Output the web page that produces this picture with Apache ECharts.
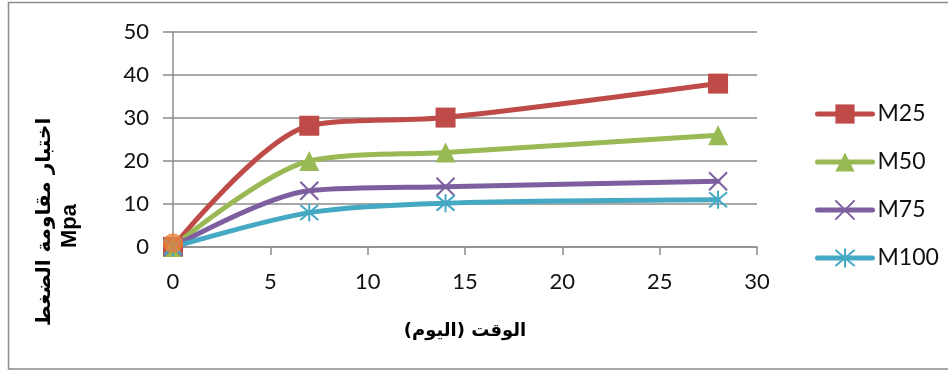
<!DOCTYPE html>
<html>
<head>
<meta charset="utf-8">
<script src="https://cdn.jsdelivr.net/npm/echarts@6/dist/echarts.min.js"></script>
<style>
  html, body { margin: 0; padding: 0; background: #fff; }
  #chart { width: 948px; height: 374px; }
</style>
</head>
<body>
<div id="chart"></div>
<script>
// Compressive strength (MPa) versus age (days) for four mixes
const days = [0, 7, 14, 28];
const m25 = [0, 28.2, 30.1, 38.0];
const m50 = [0, 20.0, 22.0, 26.0];
const m75 = [0, 13.1, 14.0, 15.3];
const m100 = [0, 8.0, 10.2, 11.0];
const originPoint = [[0, 0.9]];

const xTicks = { min: 0, max: 30, step: 5 };
const yTicks = { min: 0, max: 50, step: 10 };

const seriesNames = ['M25', 'M50', 'M75', 'M100'];
const colors = ['#BE4B48', '#98B954', '#7D5FA0', '#46A9C4'];

const crossPath = 'path://M0,0 L20,20 M20,0 L0,20';
const starPath = 'path://M0,0 L20,20 M20,0 L0,20 M10,-2 L10,22';

function pairs(vals) {
  return days.map((d, i) => [d, vals[i]]);
}

const gridColor = '#8C8C8C';
const tickFont = { fontFamily: 'Lato, "Open Sans", sans-serif', fontSize: 22, color: '#111' };

function lineSeries(name, vals, color, symbol, size, hollow) {
  return {
    name: name,
    type: 'line',
    data: pairs(vals),
    smooth: 0.3,
    symbol: symbol,
    symbolSize: size,
    showAllSymbol: true,
    lineStyle: { width: 5, color: color, cap: 'round' },
    itemStyle: hollow
      ? { color: color, borderColor: color, borderWidth: 2 }
      : { color: color },
    emphasis: { disabled: true },
    z: 2
  };
}

const chart = echarts.init(document.getElementById('chart'), null, { renderer: 'canvas' });

chart.setOption({
  animation: false,
  backgroundColor: '#fff',
  grid: { left: 173, right: 191, top: 32, bottom: 127, containLabel: false },
  xAxis: {
    type: 'value',
    min: xTicks.min, max: xTicks.max, interval: xTicks.step,
    axisLine: { show: true, lineStyle: { color: gridColor, width: 1.5 } },
    axisTick: { show: true, length: 8, lineStyle: { color: gridColor, width: 1.5 } },
    splitLine: { show: false },
    axisLabel: Object.assign({ margin: 24 }, tickFont),
    name: 'الوقت (اليوم)',
    nameLocation: 'middle',
    nameGap: 75,
    nameTextStyle: { fontFamily: '"DejaVu Sans", sans-serif', fontWeight: 'bold', fontSize: 18, color: '#000' }
  },
  yAxis: {
    type: 'value',
    min: yTicks.min, max: yTicks.max, interval: yTicks.step,
    axisLine: { show: true, lineStyle: { color: gridColor, width: 1.5 } },
    axisTick: { show: true, length: 10, lineStyle: { color: gridColor, width: 1.5 } },
    splitLine: { show: true, lineStyle: { color: gridColor, width: 1.5 } },
    axisLabel: Object.assign({ margin: 24 }, tickFont)
  },
  legend: {
    orient: 'vertical',
    left: 810,
    top: 97,
    itemWidth: 55,
    itemHeight: 24,
    itemGap: 24,
    data: seriesNames,
    lineStyle: { width: 5, cap: 'round' },
    textStyle: { fontFamily: 'Lato, "Open Sans", sans-serif', fontSize: 23, lineHeight: 24, color: '#111' }
  },
  graphic: [
    {
      type: 'rect',
      shape: { x: 8.5, y: 2.5, width: 945, height: 366.5 },
      style: { fill: 'none', stroke: '#8C8C8C', lineWidth: 1.5 },
      silent: true, z: -10
    },
    {
      type: 'text',
      x: 45, y: 222,
      rotation: Math.PI / 2,
      style: {
        text: 'اختبار مقاومة الضغط',
        fontFamily: '"DejaVu Sans", sans-serif',
        fontWeight: 'bold',
        fontSize: 20,
        fill: '#000',
        align: 'center',
        verticalAlign: 'middle'
      }
    },
    {
      type: 'text',
      x: 70, y: 226,
      rotation: Math.PI / 2,
      style: {
        text: 'Mpa',
        fontFamily: '"Liberation Sans", Arial, sans-serif',
        fontWeight: 'bold',
        fontSize: 22,
        fill: '#000',
        align: 'center',
        verticalAlign: 'middle'
      }
    }
  ],
  series: [
    lineSeries('M25', m25, colors[0], 'rect', 20, false),
    lineSeries('M50', m50, colors[1], 'triangle', 20, false),
    lineSeries('M75', m75, colors[2], crossPath, 18, true),
    lineSeries('M100', m100, colors[3], starPath, 18, true),
    {
      name: 'origin',
      type: 'scatter',
      data: originPoint,
      symbol: 'circle',
      symbolSize: 20,
      itemStyle: { color: '#E8823A' },
      emphasis: { disabled: true },
      z: 5
    }
  ]
});
</script>
</body>
</html>
